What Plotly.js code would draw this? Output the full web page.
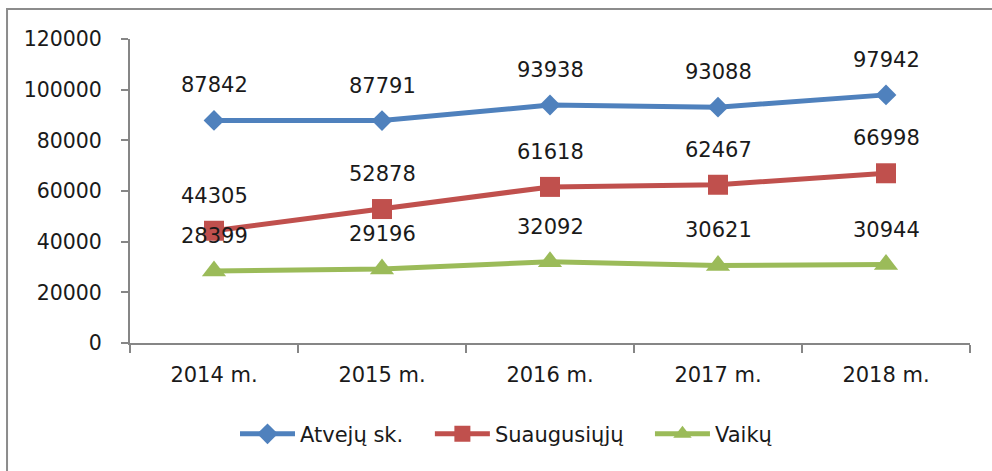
<!DOCTYPE html>
<html>
<head>
<meta charset="utf-8">
<script src="https://cdn.plot.ly/plotly-3.0.1.min.js"></script>
<style>html,body{margin:0;padding:0;background:#fff;}#chart{width:992px;height:471px;}</style>
</head>
<body>
<div id="chart"></div>
<script>
const categories = ["2014 m.", "2015 m.", "2016 m.", "2017 m.", "2018 m."];
const seriesNames = ["Atvejų sk.", "Suaugusiųjų", "Vaikų"];
const atvejuSk = [87842, 87791, 93938, 93088, 97942];
const suaugusiuju = [44305, 52878, 61618, 62467, 66998];
const vaiku = [28399, 29196, 32092, 30621, 30944];
const yTickVals = [0, 20000, 40000, 60000, 80000, 100000, 120000];

const colors = ["#4F81BD", "#C0504D", "#9BBB59"];
const symbols = ["diamond", "square", "triangle-up"];
const sizes = [16, 20, 21];
const legendIds = ["legend", "legend2", "legend3"];
const allSeries = [atvejuSk, suaugusiuju, vaiku];
const fontFam = "DejaVu Sans, sans-serif";
const txtColor = "#1a1a1a";

const traces = allSeries.map((vals, i) => ({
  type: "scatter",
  mode: "lines+markers",
  name: seriesNames[i],
  legend: legendIds[i],
  x: categories,
  y: vals,
  line: {color: colors[i], width: 5},
  marker: {symbol: symbols[i], size: sizes[i], color: colors[i]},
  hoverinfo: "skip"
}));

const annotations = [];
allSeries.forEach((vals) => {
  vals.forEach((v, j) => {
    annotations.push({
      x: categories[j], y: v, xref: "x", yref: "y",
      text: String(v), showarrow: false, yshift: 35,
      font: {family: fontFam, size: 21, color: txtColor}
    });
  });
});

const legendBase = {
  orientation: "h", y: -0.3, yanchor: "middle", xanchor: "left",
  font: {family: fontFam, size: 21, color: txtColor},
  itemwidth: 55, bgcolor: "rgba(0,0,0,0)"
};

const layout = {
  width: 992, height: 471,
  margin: {l: 130, r: 22, t: 39, b: 128},
  paper_bgcolor: "#ffffff",
  plot_bgcolor: "#ffffff",
  showlegend: true,
  legend: Object.assign({}, legendBase, {x: 0.125}),
  legend2: Object.assign({}, legendBase, {x: 0.357}),
  legend3: Object.assign({}, legendBase, {x: 0.619}),
  xaxis: {
    type: "category", range: [-0.5, 4.5],
    tickson: "boundaries", ticks: "outside", ticklen: 8, tickwidth: 2, tickcolor: "#868686",
    showline: true, linecolor: "#868686", linewidth: 2,
    showgrid: false, zeroline: false, ticklabelstandoff: 12,
    tickfont: {family: fontFam, size: 21, color: txtColor}
  },
  yaxis: {
    range: [0, 120000], tickvals: yTickVals, ticktext: yTickVals.map(String),
    ticks: "outside", ticklen: 7, tickwidth: 2, tickcolor: "#868686",
    showline: true, linecolor: "#868686", linewidth: 2,
    showgrid: false, zeroline: false, ticklabelstandoff: 15,
    tickfont: {family: fontFam, size: 20.5, color: txtColor}
  },
  shapes: [{
    type: "rect", xref: "paper", yref: "paper", layer: "below",
    x0: -0.1464, x1: 1.1, y0: -0.6, y1: 1.0987,
    line: {color: "#8c8c8c", width: 2}
  }],
  annotations: annotations
};

Plotly.newPlot("chart", traces, layout, {displayModeBar: false, staticPlot: true});
</script>
</body>
</html>
